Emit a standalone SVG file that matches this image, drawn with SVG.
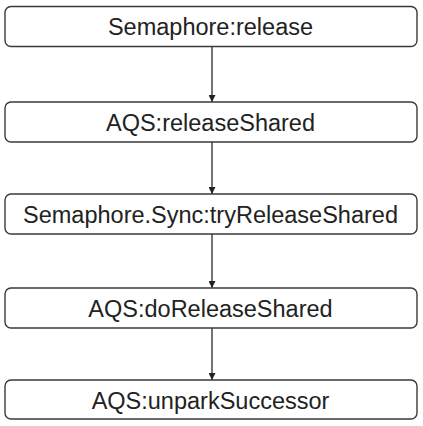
<svg xmlns="http://www.w3.org/2000/svg" width="423" height="426" viewBox="0 0 423 426">
<style>
.box{fill:#ffffff;stroke:#3a3a3a;stroke-width:1.4}
.lbl{font-family:"Liberation Sans",Arial,sans-serif;font-size:23.5px;fill:#222222;text-anchor:middle}
.edge{stroke:#3a3a3a;stroke-width:1.4;fill:none}
</style>
<defs>
<marker id="arr" viewBox="0 0 10 10" refX="10" refY="5" markerWidth="10" markerHeight="7" markerUnits="userSpaceOnUse" orient="auto">
<path d="M0,0 L10,5 L0,10 Z" fill="#222222"/>
</marker>
</defs>
<rect width="423" height="426" fill="#ffffff"/>
<g id="connectors">
<line class="edge" x1="212" y1="46.5" x2="212" y2="102" marker-end="url(#arr)"/>
<line class="edge" x1="212" y1="142" x2="212" y2="194" marker-end="url(#arr)"/>
<line class="edge" x1="212" y1="234" x2="212" y2="288" marker-end="url(#arr)"/>
<line class="edge" x1="212" y1="328" x2="212" y2="380" marker-end="url(#arr)"/>
</g>
<g id="n1">
<rect class="box" x="5" y="6.5" width="412" height="40" rx="6"/>
<text class="lbl" x="210.5" y="35">Semaphore:release</text>
</g>
<g id="n2">
<rect class="box" x="5" y="102" width="412" height="40" rx="6"/>
<text class="lbl" x="210.5" y="130.5">AQS:releaseShared</text>
</g>
<g id="n3">
<rect class="box" x="5" y="194" width="412" height="40" rx="6"/>
<text class="lbl" x="210.5" y="223">Semaphore.Sync:tryReleaseShared</text>
</g>
<g id="n4">
<rect class="box" x="5" y="288" width="412" height="40" rx="6"/>
<text class="lbl" x="210.5" y="316.5">AQS:doReleaseShared</text>
</g>
<g id="n5">
<rect class="box" x="5" y="380" width="412" height="39" rx="6"/>
<text class="lbl" x="210.5" y="408.5">AQS:unparkSuccessor</text>
</g>
</svg>
